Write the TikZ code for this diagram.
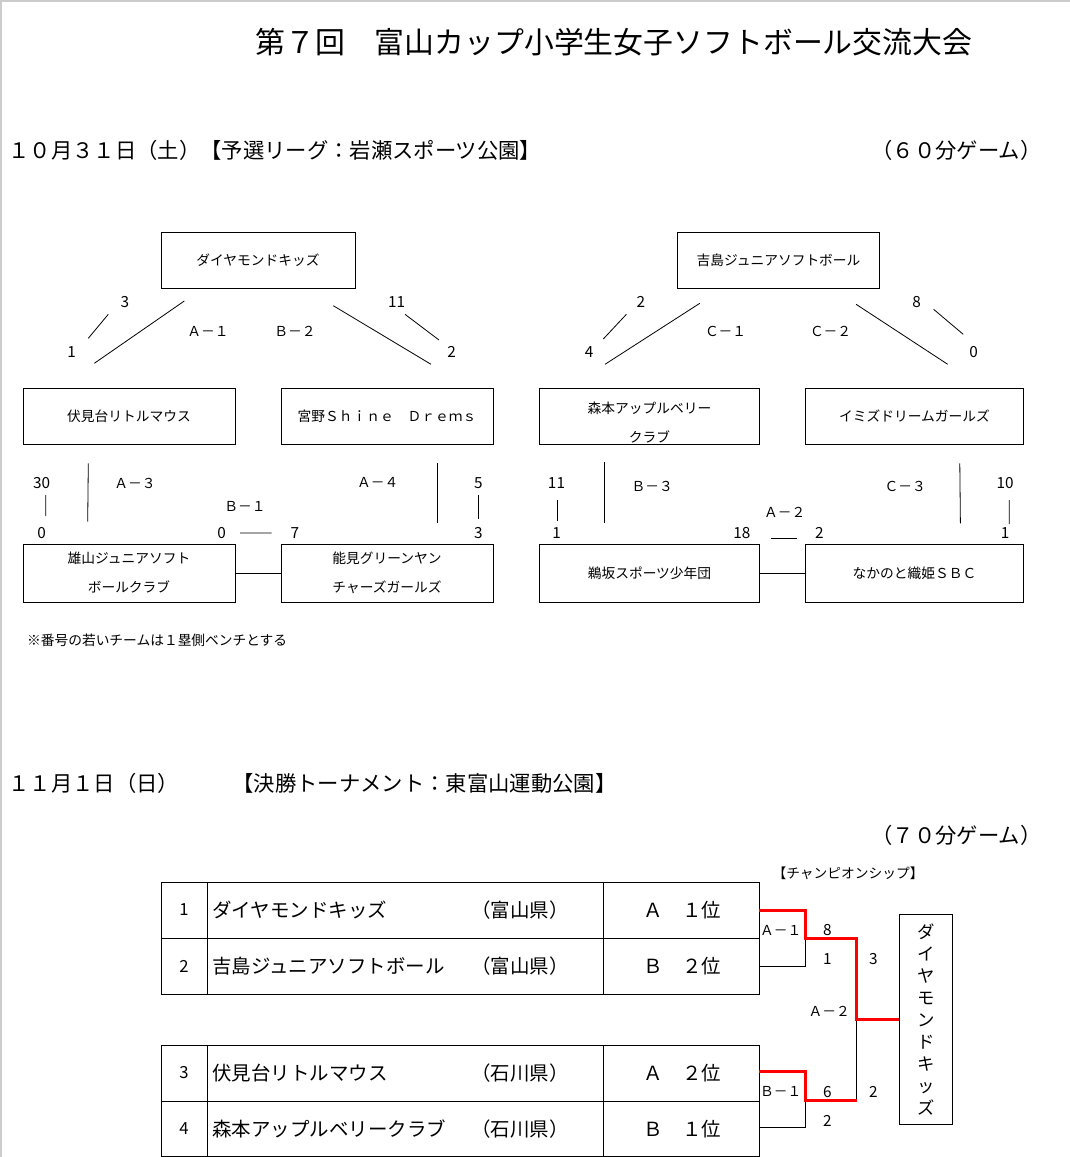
\documentclass[tikz,border=0pt]{standalone}
\usepackage{fontspec}
\setmainfont{Noto Sans CJK JP}
\begin{document}
\begin{tikzpicture}[x=.75pt, y=-.75pt, line width=.6pt,
  team/.style={draw, minimum height=42pt, inner sep=0pt, align=center, font=\fontsize{10.3}{21.75}\selectfont},
  score/.style={inner sep=0pt, font=\fontsize{11.5}{12}\selectfont},
  game/.style={inner sep=0pt, font=\fontsize{10.3}{12}\selectfont},
  head/.style={anchor=west, inner sep=0pt, font=\fontsize{16}{18}\selectfont},
  cell/.style={inner sep=0pt, font=\fontsize{14.6}{16}\selectfont},
  win/.style={red, line width=2.25pt}]
  \useasboundingbox (0,0) rectangle (1070,1157);
  \draw[black!20, line width=1.5pt] (0,1) -- (1070,1) (1,0) -- (1,1157);
  \node[head, font=\fontsize{22.4}{24}\selectfont] (title) at (255,42) {第７回　富山カップ小学生女子ソフトボール交流大会};
  \node[head] (day1) at (8,150) {１０月３１日（土）【予選リーグ：岩瀬スポーツ公園】};
  \node[head, anchor=east] (time1) at (1042,150) {（６０分ゲーム）};
  % league left
  \node[team, minimum width=145.5pt] (dia) at (258,260) {ダイヤモンドキッズ};
  \node[team, minimum width=159pt] (fushimi) at (129,416) {伏見台リトルマウス};
  \node[team, minimum width=159pt] (miyano) at (387,416) {宮野Ｓｈｉｎｅ　Ｄｒｅｍｓ};
  \node[team, minimum width=159pt, minimum height=43.5pt] (oyama) at (129,573) {雄山ジュニアソフト\\ボールクラブ};
  \node[team, minimum width=159pt, minimum height=43.5pt] (nomi) at (387,573) {能見グリーンヤン\\チャーズガールズ};
  \draw (oyama.east) -- (nomi.west);
  \draw (184.3,301) -- (94.3,363.3) (108.3,314.3) -- (88.3,338.3);
  \draw (333.3,305.7) -- (431,364.3) (405,314.3) -- (439,340);
  \draw (88.3,463.3) -- (87.7,521.7) (45.7,495) -- (45.7,516) (240,533) -- (271.7,533);
  \draw (437.3,463.3) -- (437.3,522.7) (478.3,495) -- (478.3,519);
  \node[score] at (125,301.7) {3};
  \node[score] at (71.7,352.3) {1};
  \node[score] at (396.7,301.7) {11};
  \node[score] at (451.7,351.7) {2};
  \node[score] at (41.7,483.3) {30};
  \node[score] at (41.7,533.3) {0};
  \node[score] at (221.7,533.3) {0};
  \node[score] at (295,533.3) {7};
  \node[score] at (478.3,483.3) {5};
  \node[score] at (478.3,533.3) {3};
  \node[game] at (208,331) {Ａ－１};
  \node[game] at (295,331) {Ｂ－２};
  \node[game] at (135,483.3) {Ａ－３};
  \node[game] at (245,506.7) {Ｂ－１};
  \node[game] at (377.7,482.3) {Ａ－４};
  \node[game, anchor=west] (note) at (26.7,640.7) {※番号の若いチームは１塁側ベンチとする};
  % league right
  \node[team, minimum width=151.5pt] (yoshi) at (778.5,260) {吉島ジュニアソフトボール};
  \node[team, minimum width=165pt] (mori) at (649.5,416) {};
  \node[team, draw=none] at (649.5,422.5) {森本アップルベリー\\クラブ};
  \node[team, minimum width=163.5pt] (imizu) at (914.5,416) {イミズドリームガールズ};
  \node[team, minimum width=165pt, minimum height=43.5pt] (usaka) at (649.5,573) {鵜坂スポーツ少年団};
  \node[team, minimum width=163.5pt, minimum height=43.5pt] (naka) at (914.5,573) {なかのと織姫ＳＢＣ};
  \draw (usaka.east) -- (naka.west);
  \draw (699.8,303.3) -- (605,364.3) (626.4,314.3) -- (603.3,339);
  \draw (856.1,304.3) -- (947.7,364.3) (933.6,309.3) -- (963.2,334.3);
  \draw (604.7,462.3) -- (604.7,522.7) (557.2,500) -- (557.2,521) (771,538.3) -- (796.9,538.3);
  \draw (959.8,463.3) -- (960.4,523.3) (1009.3,500) -- (1009.3,524);
  \node[score] at (640.9,301.7) {2};
  \node[score] at (589.2,352.3) {4};
  \node[score] at (916.7,301.7) {8};
  \node[score] at (973.5,351.7) {0};
  \node[score] at (556.5,483.3) {11};
  \node[score] at (556.5,533.3) {1};
  \node[score] at (741.8,533.3) {18};
  \node[score] at (819.3,533.3) {2};
  \node[score] at (1005.2,483.3) {10};
  \node[score] at (1005.2,533.3) {1};
  \node[game] at (725.6,331) {Ｃ－１};
  \node[game] at (830.6,331) {Ｃ－２};
  \node[game] at (652.2,486.7) {Ｂ－３};
  \node[game] at (784.8,512.7) {Ａ－２};
  \node[game] at (905.3,486.7) {Ｃ－３};
  % final
  \node[head] (day2) at (8,783) {１１月１日（日）};
  \node[head] (final) at (232,783) {【決勝トーナメント：東富山運動公園】};
  \node[head, anchor=east] (time2) at (1042,835) {（７０分ゲーム）};
  \node[game] (champttl) at (848,873) {【チャンピオンシップ】};
  \draw (161,882) rectangle (759.3,994) (161,938) -- (759.3,938) (207,882) -- (207,994) (603,882) -- (603,994);
  \draw (161,1045) rectangle (759.3,1156) (161,1101) -- (759.3,1101) (207,1045) -- (207,1156) (603,1045) -- (603,1156);
  \foreach \y/\n/\t/\p/\r in {910/1/ダイヤモンドキッズ/富山県/Ａ　１位, 966/2/吉島ジュニアソフトボール/富山県/Ｂ　２位,
      1073/3/伏見台リトルマウス/石川県/Ａ　２位, 1129/4/森本アップルベリークラブ/石川県/Ｂ　１位} {
    \node[cell, font=\fontsize{12.5}{14}\selectfont] at (184,\y) {\n};
    \node[cell, anchor=west] at (212,\y) {\t};
    \node[cell] at (520,\y) {（\p）};
    \node[cell] at (682,\y) {\r};
  }
  \node[draw, minimum width=39.75pt, minimum height=158pt, inner sep=0pt, align=center,
    font=\fontsize{13}{16.5}\selectfont] (champ) at (925.8,1019.3) {ダ\\イ\\ヤ\\モ\\ン\\ド\\キ\\ッ\\ズ};
  \draw (759.3,966) -| (805.7,938.3) (759.3,1127.7) -| (805.7,1100) (856.7,1019.3) -- (856.7,1100);
  \draw[win] (759.3,910) -| (805.7,938.3) -| (856.7,1019.3) -- (champ.west);
  \draw[win] (759.3,1071.7) -| (805.7,1100) -- (856.7,1100);
  \node[game] at (780.7,930) {Ａ－１};
  \node[game] at (829.3,1011.7) {Ａ－２};
  \node[game] at (780.7,1091.7) {Ｂ－１};
  \node[score] at (827.3,930) {8};
  \node[score] at (827.3,959.3) {1};
  \node[score] at (873.3,959.3) {3};
  \node[score] at (827.3,1091.7) {6};
  \node[score] at (873.3,1091.7) {2};
  \node[score] at (827.3,1121) {2};
\end{tikzpicture}
\end{document}
